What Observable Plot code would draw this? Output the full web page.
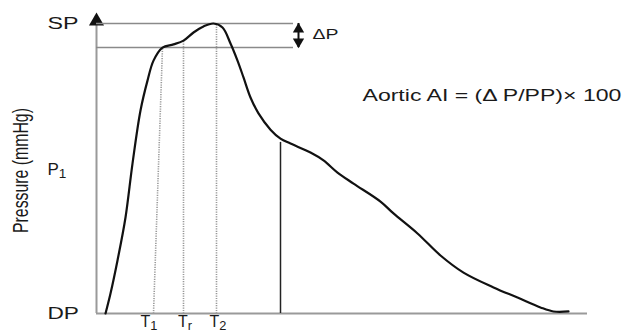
<!DOCTYPE html>
<html>
<head>
<meta charset="utf-8">
<script src="https://cdn.jsdelivr.net/npm/d3@7"></script>
<script src="https://cdn.jsdelivr.net/npm/@observablehq/plot@0.6"></script>
<style>
  body { margin: 0; background: #fff; }
  #chart svg { display: block; background: #fff; }
</style>
</head>
<body>
<div id="chart"></div>
<script>
// Aortic pressure waveform (time in arbitrary units, pressure scaled DP = 0 … SP = 100)
const time = [9, 14, 21, 29, 36, 44, 51, 57, 66, 77, 87, 97, 107, 117, 126, 134, 141, 147, 154, 162, 174, 184, 194, 214, 227, 241, 257, 284, 297, 321, 344, 367, 397, 421, 444, 457, 472];
const pressure = [0, 6.9, 18.3, 33.1, 51.7, 70.0, 80.3, 87.2, 91.7, 92.8, 94.1, 96.9, 99.0, 100, 98.6, 93.1, 87.2, 81.4, 74.5, 69.0, 63.4, 60.3, 58.6, 55.5, 52.8, 48.6, 44.8, 38.6, 34.5, 27.6, 20.0, 14.1, 9.0, 5.5, 2.1, 0.7, 0.7];

// pressure levels (y labels)
const levelNames = ["SP", "P_1", "DP"];
const levelValues = [100, 49.7, 0];
const inflection = 91.7;           // pressure at the inflection point (T1)

// time markers (x labels) and dotted guide lines
const timeNames = ["T_1", "T_r", "T_2"];
const timeValues = [57, 87, 120];          // foot of each guide line
const markerTopTime = [66, 87, 120];       // where each guide meets the wave
const markerTopPressure = [91.7, 94.1, 100];

// dicrotic notch
const notchTime = 184;
const notchPressure = 59;

// annotation texts
const deltaLabel = "ΔP";
const formula = "Aortic AI = (Δ P/PP)× 100";
const yTitle = "Pressure (mmHg)";

const xMax = 491, yTop = 100.8, levelLineEnd = 197, deltaX = 202;
const labelX = -49;
const timeLabelShift = [-4.5, 1.5, 1.5];

const wave = time.map((t, i) => ({t, p: pressure[i]}));
const markers = timeValues.map((t, i) => ({t, tt: markerTopTime[i], pt: markerTopPressure[i]}));
const levels = levelNames.map((n, i) => ({n, v: levelValues[i]}));
const times = timeNames.map((n, i) => ({n, x: timeValues[i] + timeLabelShift[i]}));

const font = "'Liberation Sans', Arial, Helvetica, sans-serif";
const ink = "#1a1a1a";

const chart = Plot.plot({
  width: 632, height: 334,
  marginLeft: 96, marginRight: 45, marginTop: 23, marginBottom: 21,
  x: {domain: [0, xMax], axis: null},
  y: {domain: [0, 100], axis: null},
  style: {fontFamily: font, background: "#fff", overflow: "visible"},
  marks: [
    // axes
    Plot.ruleY([0], {x1: 0, x2: xMax, stroke: "#9a9a9a", strokeWidth: 2}),
    Plot.ruleX([0], {y1: 0, y2: yTop, stroke: "#9a9a9a", strokeWidth: 2}),
    Plot.dot([0], {x: 0, y: yTop, symbol: "triangle", r: 5.6, fill: "#111", stroke: null}),
    // SP and inflection pressure levels
    Plot.ruleY([levelValues[0], inflection], {x1: 0, x2: levelLineEnd, stroke: "#8a8a8a", strokeWidth: 1.5}),
    // dotted time guides
    Plot.link(markers, {x1: "t", y1: 0, x2: "tt", y2: "pt", stroke: "#999", strokeWidth: 1.6, strokeDasharray: "1.2,1.2"}),
    // dicrotic notch line
    Plot.ruleX([notchTime], {y1: 0, y2: notchPressure, stroke: "#222", strokeWidth: 1.5}),
    // waveform
    Plot.line(wave, {x: "t", y: "p", curve: "catmull-rom", stroke: "#111", strokeWidth: 2.2}),
    // ΔP double arrow
    Plot.ruleX([deltaX], {y1: inflection, y2: levelValues[0], stroke: "#111", strokeWidth: 2}),
    Plot.dot([0], {x: deltaX, y: 98.0, symbol: "triangle", r: 4.2, fill: "#111", stroke: null}),
    Plot.dot([0], {x: deltaX, y: 93.7, symbol: "triangle", r: 4.2, fill: "#111", stroke: null, rotate: 180}),
    // labels
    Plot.text(levels, {x: labelX, y: "v", text: "n", textAnchor: "start", fontSize: 17, fill: ink}),
    Plot.text(times, {x: "x", y: -2.9, text: "n", fontSize: 16, fill: ink}),
    Plot.text([deltaLabel], {x: 216, y: 96.3, text: (d) => d, textAnchor: "start", fontSize: 15, fill: ink}),
    Plot.text([formula], {x: 266, y: 75, text: (d) => d, textAnchor: "start", fontSize: 17, fill: ink}),
    Plot.text([yTitle], {x: -75, y: 49.3, text: (d) => d, rotate: -90, fontSize: 15.5, fill: ink})
  ]
});

document.getElementById("chart").appendChild(chart);

// post-process: subscripts, and the wide lettering of the original (scale to measured lengths)
const targetLength = {"SP": 31, "DP": 31.5, "ΔP": 26};
targetLength[formula] = 259;
targetLength[yTitle] = 125;
const NS = "http://www.w3.org/2000/svg";
chart.querySelectorAll("text").forEach((el) => {
  const s = el.textContent;
  if (s.includes("_")) {
    const [base, sub] = s.split("_");
    el.textContent = base;
    const ts = document.createElementNS(NS, "tspan");
    ts.setAttribute("dy", "0.25em");
    ts.setAttribute("font-size", "0.8em");
    ts.textContent = sub;
    el.appendChild(ts);
    return;
  }
  if (targetLength[s]) {
    const natural = el.getComputedTextLength();
    if (!(natural > 0)) return;
    const k = targetLength[s] / natural;
    const tr = el.getAttribute("transform") || "";
    const perp = s === yTitle ? 1.4 : 1;
    el.setAttribute("transform", `${tr} scale(${k.toFixed(4)},${perp})`);
  }
});
</script>
</body>
</html>
